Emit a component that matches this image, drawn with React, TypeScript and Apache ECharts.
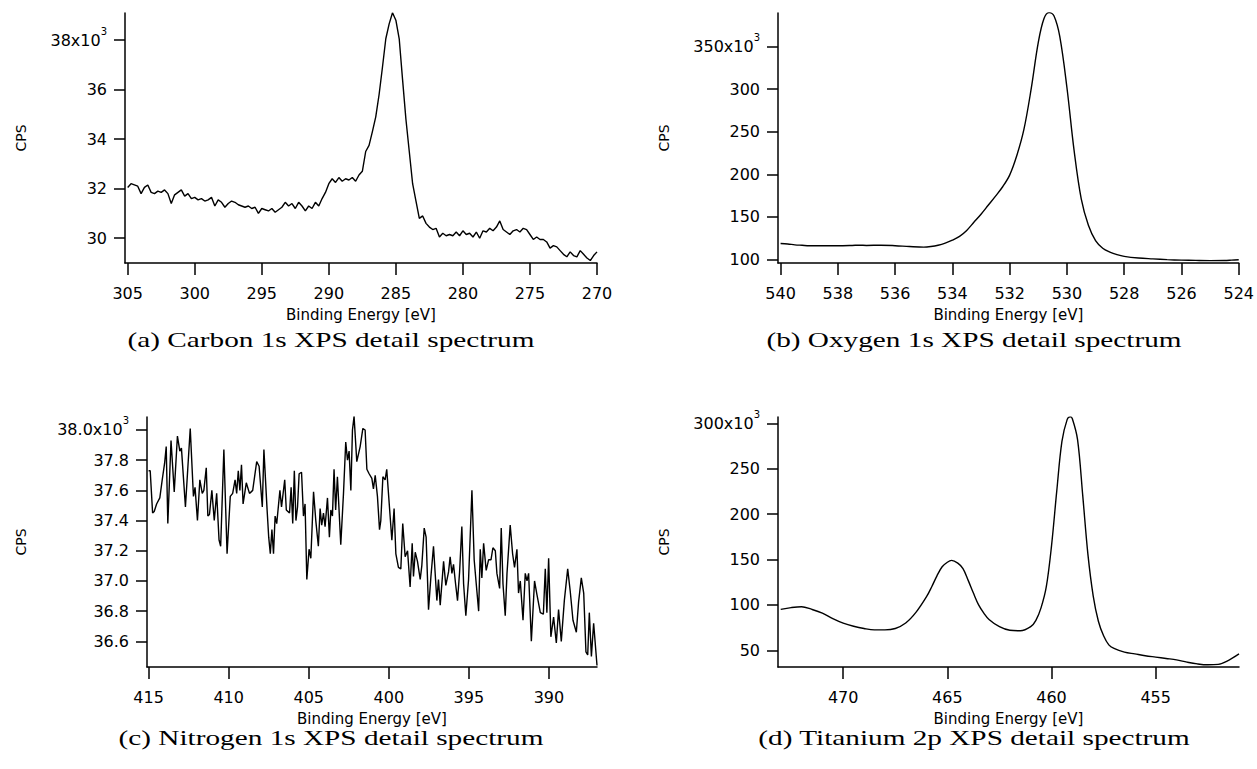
import React, { useEffect, useRef } from "react";
import * as echarts from "echarts";

// ---------- (a) Carbon 1s : energies from 305 eV down in 0.25 eV steps ----------
const C1S_E_START = 305;
const C1S_E_STEP = 0.25;
const C1S_KCPS = [
  32.05, 32.2, 32.15, 32.1, 31.8, 32.05, 32.15, 31.85, 31.8, 31.9, 31.85, 31.95, 31.8, 31.4, 31.75, 31.85,
  31.95, 31.7, 31.8, 31.6, 31.65, 31.55, 31.6, 31.5, 31.55, 31.65, 31.3, 31.55, 31.45, 31.25, 31.4, 31.5,
  31.45, 31.35, 31.3, 31.25, 31.3, 31.2, 31.25, 31.0, 31.2, 31.15, 31.1, 31.2, 31.05, 31.15, 31.25, 31.45,
  31.3, 31.4, 31.2, 31.45, 31.3, 31.1, 31.3, 31.2, 31.45, 31.3, 31.6, 31.85, 32.2, 32.4, 32.25, 32.45,
  32.3, 32.4, 32.35, 32.45, 32.3, 32.55, 32.7, 33.5, 33.75, 34.3, 34.9, 35.8, 36.9, 38.05, 38.65, 39.1,
  38.8, 38.05, 36.4, 34.8, 33.5, 32.2, 31.5, 30.8, 30.9, 30.6, 30.45, 30.35, 30.4, 30.05, 30.2, 30.1,
  30.15, 30.1, 30.25, 30.1, 30.3, 30.15, 30.2, 30.05, 30.25, 30.0, 30.3, 30.25, 30.4, 30.3, 30.45, 30.7,
  30.35, 30.25, 30.15, 30.3, 30.35, 30.25, 30.4, 30.35, 30.15, 29.95, 30.05, 29.95, 29.95, 29.85, 29.6, 29.7,
  29.65, 29.5, 29.35, 29.25, 29.45, 29.3, 29.25, 29.5, 29.35, 29.2, 29.1, 29.3, 29.45,
];
const C_X_TICKS = [305, 300, 295, 290, 285, 280, 275, 270];
const C_Y_TICKS = [30, 32, 34, 36, 38];

// ---------- (b) Oxygen 1s : [binding energy, kCPS] ----------
const O1S: [number, number][] = [
  [540.0, 118.5], [539.75, 118], [539.5, 117], [539.25, 116.5], [539.0, 116], [538.5, 116], [538.0, 116],
  [537.5, 116.3], [537.25, 116.6], [537.0, 116.3], [536.5, 116.6], [536.0, 116], [535.5, 115], [535.0, 114.3],
  [534.75, 115], [534.5, 116.5], [534.25, 119], [534.0, 122.5], [533.75, 127], [533.5, 134], [533.25, 143.5],
  [533.0, 153], [532.75, 163.5], [532.5, 174], [532.25, 185], [532.0, 199], [531.75, 222], [531.5, 253],
  [531.25, 300], [531.0, 355], [530.8, 383], [530.62, 390], [530.45, 386], [530.25, 362], [530.0, 302],
  [529.75, 228], [529.5, 171], [529.25, 140], [529.0, 122], [528.75, 113], [528.5, 108.5], [528.25, 105.5],
  [528.0, 103.5], [527.5, 101.5], [527.0, 100.5], [526.5, 99.6], [526.0, 99], [525.5, 98.7], [525.0, 98.5],
  [524.5, 98.6], [524.25, 99.0], [524.0, 99.5],
];
const O_X_TICKS = [540, 538, 536, 534, 532, 530, 528, 526, 524];
const O_Y_TICKS = [100, 150, 200, 250, 300, 350];

// ---------- (c) Nitrogen 1s : [binding energy, kCPS] ----------
const N1S: [number, number][] = [
  [415.0, 37.73], [414.9, 37.73], [414.75, 37.45], [414.65, 37.46], [414.5, 37.51], [414.3, 37.55], [414.15, 37.67],
  [414.0, 37.78], [413.9, 37.89], [413.8, 37.38], [413.6, 37.93], [413.4, 37.59], [413.2, 37.96], [413.05, 37.86],
  [412.95, 37.88], [412.7, 37.49], [412.4, 38.01], [412.2, 37.56], [412.1, 37.62], [411.95, 37.4], [411.8, 37.67],
  [411.65, 37.58], [411.55, 37.6], [411.4, 37.75], [411.3, 37.43], [411.2, 37.44], [411.05, 37.6], [410.9, 37.4],
  [410.75, 37.58], [410.6, 37.27], [410.5, 37.23], [410.3, 37.87], [410.1, 37.18], [409.9, 37.56], [409.75, 37.58],
  [409.6, 37.67], [409.5, 37.58], [409.4, 37.73], [409.3, 37.6], [409.2, 37.77], [409.1, 37.51], [408.9, 37.65],
  [408.7, 37.58], [408.5, 37.6], [408.25, 37.79], [408.1, 37.76], [407.9, 37.49], [407.8, 37.87], [407.6, 37.47],
  [407.5, 37.29], [407.4, 37.18], [407.3, 37.34], [407.2, 37.18], [407.1, 37.43], [407.0, 37.38], [406.8, 37.6],
  [406.7, 37.49], [406.5, 37.67], [406.4, 37.47], [406.2, 37.45], [406.1, 37.62], [406.0, 37.38], [405.9, 37.73],
  [405.8, 37.4], [405.7, 37.49], [405.6, 37.71], [405.45, 37.72], [405.33, 37.43], [405.23, 37.51], [405.12, 37.01],
  [404.98, 37.21], [404.87, 37.15], [404.7, 37.59], [404.56, 37.4], [404.4, 37.23], [404.29, 37.48], [404.19, 37.37],
  [404.08, 37.45], [403.98, 37.36], [403.83, 37.55], [403.71, 37.29], [403.62, 37.47], [403.52, 37.43], [403.42, 37.74],
  [403.32, 37.47], [403.21, 37.69], [403.0, 37.24], [402.83, 37.58], [402.69, 37.92], [402.58, 37.8], [402.48, 37.86],
  [402.37, 37.6], [402.27, 38.0], [402.17, 38.09], [402.0, 37.79], [401.79, 37.89], [401.62, 38.01], [401.48, 38.0],
  [401.37, 37.74], [401.23, 37.71], [401.06, 37.68], [400.96, 37.61], [400.85, 37.7], [400.71, 37.56], [400.58, 37.34],
  [400.5, 37.4], [400.37, 37.69], [400.23, 37.67], [400.13, 37.74], [399.96, 37.49], [399.81, 37.27], [399.67, 37.48],
  [399.56, 37.18], [399.4, 37.09], [399.25, 37.08], [399.13, 37.38], [398.98, 37.16], [398.83, 37.2], [398.67, 36.96],
  [398.54, 37.25], [398.46, 37.03], [398.35, 37.19], [398.21, 37.13], [398.04, 37.01], [397.94, 37.1], [397.79, 37.35],
  [397.67, 37.29], [397.52, 36.81], [397.37, 37.03], [397.21, 37.23], [397.0, 36.87], [396.9, 37.01], [396.79, 36.84],
  [396.58, 37.13], [396.44, 36.97], [396.27, 37.06], [396.17, 37.16], [396.06, 37.05], [395.96, 37.11], [395.83, 36.98],
  [395.71, 36.87], [395.58, 37.06], [395.44, 37.36], [395.33, 36.98], [395.19, 36.77], [395.02, 37.01], [394.81, 37.6],
  [394.67, 37.14], [394.54, 36.98], [394.39, 36.8], [394.29, 37.21], [394.19, 37.02], [394.08, 37.25], [393.92, 37.07],
  [393.77, 37.14], [393.62, 37.14], [393.5, 37.22], [393.35, 37.2], [393.25, 37.05], [393.08, 36.95], [392.98, 37.35],
  [392.87, 36.98], [392.73, 36.77], [392.62, 37.05], [392.42, 37.37], [392.27, 37.18], [392.15, 37.09], [392.0, 37.21],
  [391.9, 36.92], [391.79, 37.0], [391.62, 36.74], [391.48, 37.05], [391.37, 37.0], [391.27, 37.05], [391.1, 36.6],
  [390.9, 37.0], [390.75, 36.91], [390.54, 36.79], [390.35, 36.78], [390.23, 37.08], [390.13, 36.79], [390.02, 37.15],
  [389.88, 36.63], [389.71, 36.76], [389.54, 36.59], [389.4, 36.81], [389.23, 36.6], [389.04, 36.87], [388.83, 37.08],
  [388.67, 36.93], [388.5, 36.74], [388.29, 36.66], [388.15, 36.86], [387.98, 37.02], [387.83, 36.92], [387.69, 36.53],
  [387.58, 36.51], [387.48, 36.79], [387.35, 36.5], [387.21, 36.72], [387.0, 36.44],
];
const N_X_TICKS = [415, 410, 405, 400, 395, 390];
const N_Y_TICKS = [36.6, 36.8, 37.0, 37.2, 37.4, 37.6, 37.8, 38.0];

// ---------- (d) Titanium 2p : [binding energy, kCPS] ----------
const TI2P: [number, number][] = [
  [473.0, 95], [472.5, 97], [472.0, 98], [471.5, 95], [471.0, 91], [470.5, 85], [470.0, 80], [469.5, 76.5],
  [469.0, 74], [468.5, 72.5], [468.0, 72.5], [467.5, 74], [467.0, 80], [466.5, 92], [466.0, 109], [465.75, 120],
  [465.5, 132], [465.25, 142], [465.0, 147], [464.8, 149], [464.5, 146], [464.25, 140], [464.0, 127], [463.75, 113],
  [463.5, 100], [463.25, 91], [463.0, 84], [462.5, 76], [462.0, 72], [461.5, 71.5], [461.0, 76], [460.75, 83],
  [460.5, 97], [460.25, 120], [460.0, 165], [459.75, 225], [459.5, 280], [459.25, 304], [459.1, 307], [459.0, 305],
  [458.75, 282], [458.5, 220], [458.25, 155], [458.0, 110], [457.75, 82], [457.5, 66], [457.25, 56], [457.0, 52],
  [456.5, 48], [456.0, 46], [455.5, 44], [455.0, 42.5], [454.5, 41], [454.0, 39.5], [453.5, 37], [453.0, 35],
  [452.5, 34], [452.0, 34.5], [451.5, 39], [451.0, 46],
];
const T_X_TICKS = [470, 465, 460, 455];
const T_Y_TICKS = [50, 100, 150, 200, 250, 300];

const CAPTIONS = [
  "(a) Carbon 1s XPS detail spectrum",
  "(b) Oxygen 1s XPS detail spectrum",
  "(c) Nitrogen 1s XPS detail spectrum",
  "(d) Titanium 2p XPS detail spectrum",
];
const X_TITLE = "Binding Energy [eV]";
const Y_TITLE = "CPS";

const SANS = "DejaVu Sans";

function buildOption() {
  const c1s: [number, number][] = C1S_KCPS.map((v, i) => [C1S_E_START - i * C1S_E_STEP, v]);

  const grids = [
    { left: 125, top: 13, width: 472, height: 250 },
    { left: 778, top: 13, width: 461, height: 250 },
    { left: 147, top: 417, width: 450, height: 250 },
    { left: 778, top: 417, width: 461, height: 250 },
  ];

  const xSpec = [
    { min: 270, max: 305.2, ticks: C_X_TICKS },
    { min: 524, max: 540.09, ticks: O_X_TICKS },
    { min: 387, max: 415.1, ticks: N_X_TICKS },
    { min: 451, max: 473.13, ticks: T_X_TICKS },
  ];
  const ySpec = [
    { min: 29.0, max: 39.09, ticks: C_Y_TICKS, dec: 0, gap: 97 },
    { min: 95.65, max: 389.6, ticks: O_Y_TICKS, dec: 0, gap: 107 },
    { min: 36.43, max: 38.086, ticks: N_Y_TICKS, dec: 1, gap: 119 },
    { min: 31.6, max: 306.9, ticks: T_Y_TICKS, dec: 0, gap: 107 },
  ];

  const axisLine = { show: true, onZero: false, lineStyle: { color: "#000", width: 1.5 } };

  const xAxis = xSpec.map((s, i) => ({
    type: "value",
    gridIndex: i,
    min: s.min,
    max: s.max,
    inverse: true,
    name: X_TITLE,
    nameLocation: "middle",
    nameGap: 44,
    nameTextStyle: { fontFamily: SANS, fontSize: 15, color: "#000" },
    axisLine,
    axisTick: { show: true, inside: false, length: 12, customValues: s.ticks, lineStyle: { color: "#000", width: 1.5 } },
    axisLabel: { customValues: s.ticks, margin: 22, fontFamily: SANS, fontSize: 16, color: "#000" },
    splitLine: { show: false },
  }));

  const yAxis = ySpec.map((s, i) => {
    const top = s.ticks[s.ticks.length - 1];
    return {
      type: "value",
      gridIndex: i,
      min: s.min,
      max: s.max,
      name: Y_TITLE,
      nameLocation: "middle",
      nameRotate: 90,
      nameGap: s.gap,
      nameTextStyle: { fontFamily: SANS, fontSize: 14, color: "#000" },
      axisLine,
      axisTick: { show: true, inside: false, length: 11, customValues: s.ticks, lineStyle: { color: "#000", width: 1.5 } },
      axisLabel: {
        customValues: s.ticks,
        margin: 18,
        fontFamily: SANS,
        fontSize: 16,
        color: "#000",
        formatter: (v: number) => {
          const t = v.toFixed(s.dec);
          return Math.abs(v - top) < 1e-9 ? `{b|${t}x10}{s|3}` : t;
        },
        rich: {
          b: { fontFamily: SANS, fontSize: 16, lineHeight: 28, color: "#000" },
          s: { fontFamily: SANS, fontSize: 10, lineHeight: 10, verticalAlign: "top", color: "#000" },
        },
      },
      splitLine: { show: false },
    };
  });

  const lineBase = { type: "line", showSymbol: false, symbol: "none", lineStyle: { color: "#000", width: 1.4 }, itemStyle: { color: "#000" } };
  const series = [
    { ...lineBase, name: "C 1s", xAxisIndex: 0, yAxisIndex: 0, data: c1s },
    { ...lineBase, name: "O 1s", xAxisIndex: 1, yAxisIndex: 1, data: O1S, smooth: 0.35 },
    { ...lineBase, name: "N 1s", xAxisIndex: 2, yAxisIndex: 2, data: N1S },
    { ...lineBase, name: "Ti 2p", xAxisIndex: 3, yAxisIndex: 3, data: TI2P, smooth: 0.35 },
  ];

  const capPos = [
    [331, 339.5],
    [974, 339.5],
    [331, 737.5],
    [974, 737.5],
  ];
  const graphic = CAPTIONS.map((t, i) => ({
    type: "text",
    x: capPos[i][0],
    y: capPos[i][1],
    scaleX: 1.33,
    style: {
      text: t,
      fontFamily: "Liberation Serif",
      fontSize: 22,
      fill: "#000",
      textAlign: "center",
      textVerticalAlign: "middle",
      verticalAlign: "middle",
    },
  }));

  return {
    animation: false,
    backgroundColor: "#fff",
    grid: grids,
    xAxis,
    yAxis,
    series,
    graphic,
  };
}

export default function App() {
  const ref = useRef<HTMLDivElement>(null);
  useEffect(() => {
    if (!ref.current) return;
    const chart = echarts.init(ref.current, undefined, { renderer: "svg" });
    chart.setOption(buildOption() as any);
    return () => chart.dispose();
  }, []);
  return (
    <div
      ref={ref}
      style={{ position: "absolute", left: 0, top: 0, width: 1257, height: 769, background: "#fff" }}
    />
  );
}
